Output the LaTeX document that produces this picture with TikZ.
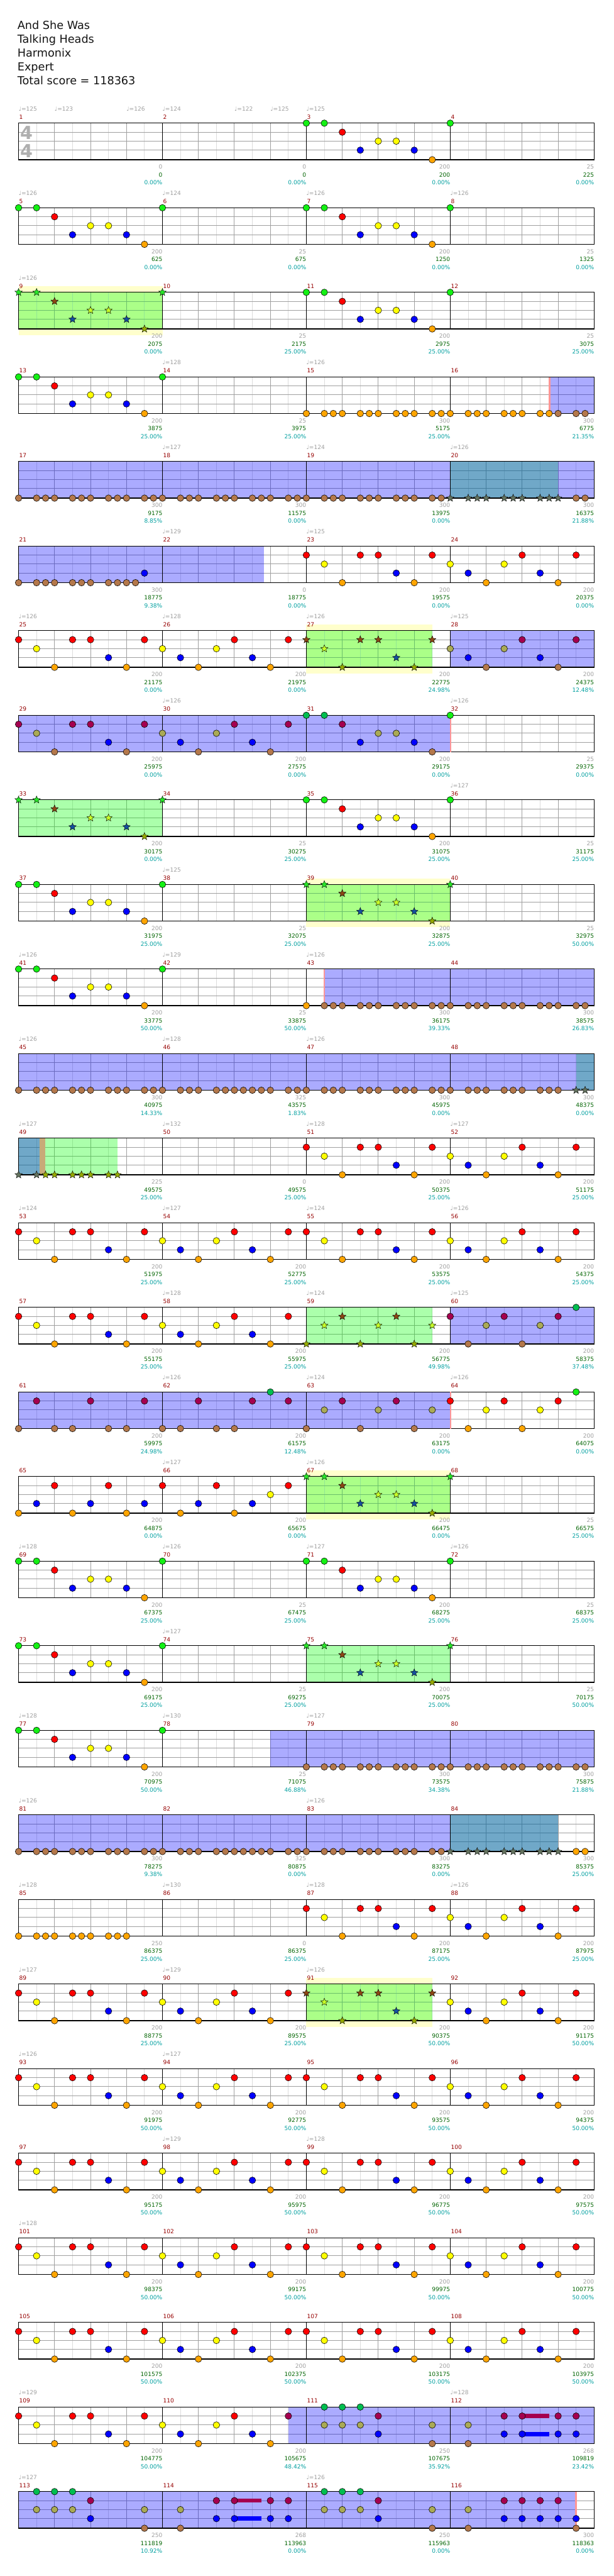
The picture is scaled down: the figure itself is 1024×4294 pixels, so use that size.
\documentclass[tikz,border=0pt]{standalone}
\usepackage{fontspec}
\setmainfont{DejaVu Sans}
\usetikzlibrary{shapes.geometric}
\definecolor{cNG}{RGB}{20,240,20}
\definecolor{cNR}{RGB}{255,0,0}
\definecolor{cNY}{RGB}{255,255,0}
\definecolor{cNB}{RGB}{0,0,255}
\definecolor{cNO}{RGB}{255,165,0}
\definecolor{cOG}{RGB}{0,190,80}
\definecolor{cOR}{RGB}{165,0,80}
\definecolor{cOY}{RGB}{170,170,85}
\definecolor{cOB}{RGB}{0,0,255}
\definecolor{cOO}{RGB}{180,120,75}
\definecolor{cSG}{RGB}{40,230,40}
\definecolor{cSR}{RGB}{140,70,20}
\definecolor{cSY}{RGB}{200,255,40}
\definecolor{cSB}{RGB}{20,80,160}
\definecolor{cSO}{RGB}{150,170,0}
\definecolor{cTS}{RGB}{100,115,95}
\definecolor{cgray}{RGB}{160,160,160}
\definecolor{cgreen}{RGB}{0,100,0}
\definecolor{cteal}{RGB}{0,160,160}
\definecolor{cmnum}{RGB}{150,0,0}
\definecolor{clight}{RGB}{220,220,220}
\definecolor{cdark}{RGB}{160,160,160}
\definecolor{chalo}{RGB}{255,255,204}
\definecolor{ctealr}{RGB}{0,100,157}
\definecolor{cpink}{RGB}{255,150,150}
\definecolor{ctan}{RGB}{200,170,120}
\definecolor{ctitle}{RGB}{20,20,20}
\definecolor{csig}{RGB}{175,175,175}
\tikzset{
 nt/.style={circle,draw=black,line width=0.6pt,minimum size=11pt,inner sep=0pt},
 sx/.style={star,star points=5,star point ratio=2.3,draw=black,line width=0.45pt,minimum size=13pt,inner sep=0pt},
 lnG/.style={}, lnR/.style={yshift=-15pt}, lnY/.style={yshift=-30pt}, lnB/.style={yshift=-45pt}, lnO/.style={yshift=-61pt},
 nG/.style={nt,lnG,fill=cNG}, nR/.style={nt,lnR,fill=cNR}, nY/.style={nt,lnY,fill=cNY}, nB/.style={nt,lnB,fill=cNB}, nO/.style={nt,lnO,fill=cNO},
 oG/.style={nt,lnG,fill=cOG}, oR/.style={nt,lnR,fill=cOR}, oY/.style={nt,lnY,fill=cOY}, oB/.style={nt,lnB,fill=cOB}, oO/.style={nt,lnO,fill=cOO},
 sG/.style={sx,lnG,fill=cSG}, sR/.style={sx,lnR,fill=cSR}, sY/.style={sx,lnY,fill=cSY}, sB/.style={sx,lnB,fill=cSB}, sO/.style={sx,lnO,fill=cSO},
 tG/.style={sx,lnG,fill=cTS}, tR/.style={sx,lnR,fill=cTS}, tY/.style={sx,lnY,fill=cTS}, tB/.style={sx,lnB,fill=cTS}, tO/.style={sx,lnO,fill=cTS},
 lbl/.style={font=\fontsize{9.5}{10}\selectfont,inner sep=0pt},
 mnum/.style={font=\fontsize{9.5}{10}\selectfont,inner sep=0pt,text=cmnum,anchor=base west},
 tmpo/.style={font=\fontsize{9.5}{10}\selectfont,inner sep=0pt,text=cgray,anchor=base west},
 ttl/.style={font=\fontsize{18.5}{20}\selectfont,inner sep=0pt,text=ctitle,anchor=base west},
 lgrid/.style={draw=clight,line width=1pt},
 dgrid/.style={draw=cdark,line width=1pt}
}
\def\patFILL{0/G,1/G,2/R,3/B,4/Y,5/Y,6/B,7/O}
\def\patBA{0/R,1/Y,2/O,3/R,4/R,5/B,6/O,7/R}
\def\patBB{0/Y,1/B,2/O,3/Y,4/R,5/B,6/O,7/R}
\def\patGAL{0/O,2/O,3/O,4/O,6/O,7/O,8/O,10/O,11/O,12/O,14/O,15/O}
\def\patGALx{0/O,2/O,3/O,4/O,6/O,7/O,8/O,9/O,10/O,11/O,12/O,14/O,15/O}
\def\patGALa{0/O,2/O,3/O,4/O,6/O,7/O,8/O,10/O,11/O,12/O}
\def\patPA{0/O,1/Y,2/R,3/O,4/Y,5/R,6/O,7/Y}
\def\patPB{0/R,1/O,2/Y,3/R,4/O,5/Y,6/R,7/G}
\def\patPC{0/O,1/R,2/O,3/O,4/R,5/O,6/O,7/R}
\def\patPD{0/O,1/O,2/R,3/O,4/O,5/R,6/G,7/R}
\def\patPE{0/O,1/B,2/R,3/O,4/B,5/R,6/O,7/B}
\def\patPF{0/R,1/O,2/B,3/R,4/O,5/B,6/Y,7/R}
\def\patPG{1/G,2/G,3/G,1/Y,2/Y,3/Y,4/R,4/B,7/Y,7/O}
\def\patPH{1/Y,1/O,3/R,3/B,4/R,4/B,6/R,6/B,7/R,7/B}
\def\patPI{1/Y,1/O,3/R,3/B,4/R,4/B,5/R,5/B,6/R,6/B,7/B,7/O}
% notes: measure index, style prefix, step, list
\newcommand\Ev[4]{\edef\lst{#4}%
 \foreach \p/\s in \lst {\pgfmathsetmacro\xx{31+240*#1+#3*\p}%
  \edef\tmp{\noexpand\node[#2\s] at (\xx,0) {};}\tmp}}
\newcommand\Grid{%
 \foreach \m in {0,...,3}{\foreach \k in {1,3,5,7}{\draw[lgrid] ({31+240*\m+30*\k},0) -- ++(0,61);}}
 \foreach \yy in {15,30,45}{\draw[dgrid] (31,\yy) -- (991,\yy);}
 \foreach \m in {0,...,3}{\foreach \k in {2,4,6}{\draw[dgrid] ({31+240*\m+30*\k},0) -- ++(0,61);}}}
\newcommand\Frame{\draw[black,line width=1pt] (271,0)--(271,61) (511,0)--(511,61) (751,0)--(751,61);
 \draw[black,line width=1.3pt] (31,0) rectangle (991,61);}
\newcommand\OD[2]{\fill[blue,fill opacity=0.33] (#1,0) rectangle (#2,61);}
\newcommand\SP[2]{\fill[green,fill opacity=0.33] (#1,0) rectangle (#2,61);}
\newcommand\TL[2]{\fill[ctealr,fill opacity=0.56] (#1,0) rectangle (#2,61);}
\newcommand\Halo[2]{\fill[chalo] (#1,-10) rectangle (#2,71);}
\newcommand\Pink[1]{\fill[cpink] ({#1-1.5},0) rectangle ({#1+1.5},61);}
\newcommand\Sus[1]{\fill[cOR] ({31+240*#1+120},11.5) rectangle ({31+240*#1+165},18.5);
 \fill[cOB] ({31+240*#1+120},41.5) rectangle ({31+240*#1+165},48.5);}
\newcommand\Lab[4]{\pgfmathsetmacro\xr{31+240*(#1+1)}%
 \node[lbl,text=cgray,anchor=base east] at (\xr,76.5) {#2};
 \node[lbl,text=cgreen,anchor=base east] at (\xr,89.5) {#3};
 \node[lbl,text=cteal,anchor=base east] at (\xr,102.5) {#4};}
\newcommand\Nums[1]{\foreach \i in {0,...,3}{\pgfmathtruncatemacro\mm{#1+\i}%
 \node[mnum] at ({31+240*\i+1},-7) {\mm};}}
\newcommand\Tp[2]{\node[tmpo] at (#1,-20.5) {♩=#2};}
\begin{document}
\begin{tikzpicture}[x=1pt,y=-1pt]
\useasboundingbox (0,0) rectangle (1024,4294);
\fill[white] (0,0) rectangle (1024,4294);
\node[ttl] (title) at (29,48.5) {And She Was};
\node[ttl] (artist) at (29,71.5) {Talking Heads};
\node[ttl] (author) at (29,94.5) {Harmonix};
\node[ttl] (level) at (29,117.5) {Expert};
\node[ttl] (total) at (29,140.5) {Total score = 118363};
% row 1
\begin{scope}[shift={(0,205.3)}]
\Grid\Frame
\node[font=\fontsize{30}{30}\selectfont\bfseries,text=csig,inner sep=0pt] (sigA) at (44,16) {4};
\node[font=\fontsize{30}{30}\selectfont\bfseries,text=csig,inner sep=0pt] (sigB) at (44,46) {4};
\Ev{2}{n}{30}{\patFILL}\Ev{3}{n}{30}{0/G}
\Nums{1}
\Lab{0}{0}{0}{0.00\%}\Lab{1}{0}{0}{0.00\%}\Lab{2}{200}{200}{0.00\%}\Lab{3}{25}{225}{0.00\%}
\Tp{31}{125}\Tp{91}{123}\Tp{211}{126}\Tp{271}{124}\Tp{391}{122}\Tp{451}{125}\Tp{511}{125}
\end{scope}
% row 2
\begin{scope}[shift={(0,346.3)}]
\Grid\Frame
\Ev{0}{n}{30}{\patFILL}\Ev{1}{n}{30}{0/G}\Ev{2}{n}{30}{\patFILL}\Ev{3}{n}{30}{0/G}
\Nums{5}
\Lab{0}{200}{625}{0.00\%}\Lab{1}{25}{675}{0.00\%}\Lab{2}{200}{1250}{0.00\%}\Lab{3}{25}{1325}{0.00\%}
\Tp{31}{126}\Tp{271}{124}\Tp{511}{126}\Tp{751}{126}
\end{scope}
% row 3
\begin{scope}[shift={(0,487.3)}]
\Halo{31}{271}\Grid\SP{31}{271}\Frame
\Ev{0}{s}{30}{\patFILL}\Ev{1}{s}{30}{0/G}\Ev{2}{n}{30}{\patFILL}\Ev{3}{n}{30}{0/G}
\Nums{9}
\Lab{0}{200}{2075}{0.00\%}\Lab{1}{25}{2175}{25.00\%}\Lab{2}{200}{2975}{25.00\%}\Lab{3}{25}{3075}{25.00\%}
\Tp{31}{126}
\end{scope}
% row 4
\begin{scope}[shift={(0,628.3)}]
\Grid\OD{917}{991}\Pink{917}\Frame
\Ev{0}{n}{30}{\patFILL}\Ev{1}{n}{30}{0/G}\Ev{2}{n}{15}{\patGAL}
\Ev{3}{n}{15}{0/O,2/O,3/O,4/O,6/O,7/O,8/O,10/O,11/O}\Ev{3}{o}{15}{12/O,14/O,15/O}
\Nums{13}
\Lab{0}{200}{3875}{25.00\%}\Lab{1}{25}{3975}{25.00\%}\Lab{2}{300}{5175}{25.00\%}\Lab{3}{300}{6775}{21.35\%}
\Tp{271}{128}\Tp{511}{126}
\end{scope}
% row 5
\begin{scope}[shift={(0,769.3)}]
\Grid\OD{31}{751}\OD{931}{991}\TL{751}{931}\Frame
\Ev{0}{o}{15}{\patGAL}\Ev{1}{o}{15}{\patGAL}\Ev{2}{o}{15}{\patGAL}
\Ev{3}{t}{15}{\patGALa}\Ev{3}{o}{15}{14/O,15/O}
\Nums{17}
\Lab{0}{300}{9175}{8.85\%}\Lab{1}{300}{11575}{0.00\%}\Lab{2}{300}{13975}{0.00\%}\Lab{3}{300}{16375}{21.88\%}
\Tp{271}{127}\Tp{511}{124}\Tp{751}{126}
\end{scope}
% row 6
\begin{scope}[shift={(0,910.3)}]
\Grid\OD{31}{440}\Frame
\Ev{0}{o}{15}{0/O,2/O,3/O,4/O,6/O,7/O,8/O,10/O,11/O,12/O,13/O,14/B}
\Ev{2}{n}{30}{\patBA}\Ev{3}{n}{30}{\patBB}
\Nums{21}
\Lab{0}{300}{18775}{9.38\%}\Lab{1}{0}{18775}{0.00\%}\Lab{2}{200}{19575}{0.00\%}\Lab{3}{200}{20375}{0.00\%}
\Tp{271}{129}\Tp{511}{125}
\end{scope}
% row 7
\begin{scope}[shift={(0,1051.3)}]
\Halo{511}{721}\Grid\SP{511}{721}\OD{751}{991}\Frame
\Ev{0}{n}{30}{\patBA}\Ev{1}{n}{30}{\patBB}\Ev{2}{s}{30}{\patBA}\Ev{3}{o}{30}{\patBB}
\Nums{25}
\Lab{0}{200}{21175}{0.00\%}\Lab{1}{200}{21975}{0.00\%}\Lab{2}{200}{22775}{24.98\%}\Lab{3}{200}{24375}{12.48\%}
\Tp{31}{126}\Tp{271}{128}\Tp{511}{126}\Tp{751}{125}
\end{scope}
% row 8
\begin{scope}[shift={(0,1192.3)}]
\Grid\OD{31}{751}\Frame\fill[cpink] (751,0) rectangle (752.5,61);
\Ev{0}{o}{30}{\patBA}\Ev{1}{o}{30}{\patBB}\Ev{2}{o}{30}{\patFILL}\Ev{3}{n}{30}{0/G}
\Nums{29}
\Lab{0}{200}{25975}{0.00\%}\Lab{1}{200}{27575}{0.00\%}\Lab{2}{200}{29175}{0.00\%}\Lab{3}{25}{29375}{0.00\%}
\Tp{271}{126}\Tp{751}{126}
\end{scope}
% row 9
\begin{scope}[shift={(0,1333.3)}]
\Grid\SP{31}{271}\Frame
\Ev{0}{s}{30}{\patFILL}\Ev{1}{s}{30}{0/G}\Ev{2}{n}{30}{\patFILL}\Ev{3}{n}{30}{0/G}
\Nums{33}
\Lab{0}{200}{30175}{0.00\%}\Lab{1}{25}{30275}{25.00\%}\Lab{2}{200}{31075}{25.00\%}\Lab{3}{25}{31175}{25.00\%}
\Tp{751}{127}
\end{scope}
% row 10
\begin{scope}[shift={(0,1474.3)}]
\Halo{511}{751}\Grid\SP{511}{751}\Frame
\Ev{0}{n}{30}{\patFILL}\Ev{1}{n}{30}{0/G}\Ev{2}{s}{30}{\patFILL}\Ev{3}{s}{30}{0/G}
\Nums{37}
\Lab{0}{200}{31975}{25.00\%}\Lab{1}{25}{32075}{25.00\%}\Lab{2}{200}{32875}{25.00\%}\Lab{3}{25}{32975}{50.00\%}
\Tp{271}{125}
\end{scope}
% row 11
\begin{scope}[shift={(0,1615.3)}]
\Grid\OD{541}{991}\Pink{541}\Frame
\Ev{0}{n}{30}{\patFILL}\Ev{1}{n}{30}{0/G}\Ev{2}{n}{15}{0/O}
\Ev{2}{o}{15}{2/O,3/O,4/O,6/O,7/O,8/O,10/O,11/O,12/O,14/O,15/O}\Ev{3}{o}{15}{\patGAL}
\Nums{41}
\Lab{0}{200}{33775}{50.00\%}\Lab{1}{25}{33875}{50.00\%}\Lab{2}{300}{36175}{39.33\%}\Lab{3}{300}{38575}{26.83\%}
\Tp{31}{126}\Tp{271}{129}\Tp{511}{126}
\end{scope}
% row 12
\begin{scope}[shift={(0,1756.3)}]
\Grid\OD{31}{961}\TL{961}{991}\Frame
\Ev{0}{o}{15}{\patGAL}\Ev{1}{o}{15}{\patGALx}\Ev{2}{o}{15}{\patGAL}
\Ev{3}{o}{15}{\patGALa}\Ev{3}{t}{15}{14/O,15/O}
\Nums{45}
\Lab{0}{300}{40975}{14.33\%}\Lab{1}{325}{43575}{1.83\%}\Lab{2}{300}{45975}{0.00\%}\Lab{3}{300}{48375}{0.00\%}
\Tp{31}{126}\Tp{271}{128}\Tp{511}{126}
\end{scope}
% row 13
\begin{scope}[shift={(0,1897.3)}]
\Grid\TL{31}{66}\fill[ctan] (66,0) rectangle (76,61);\SP{76}{196}\Frame
\Ev{0}{t}{15}{0/O,2/O}\Ev{0}{s}{15}{3/O,4/O,6/O,7/O,8/O,10/O,11/O}
\Ev{2}{n}{30}{\patBA}\Ev{3}{n}{30}{\patBB}
\Nums{49}
\Lab{0}{225}{49575}{25.00\%}\Lab{1}{0}{49575}{25.00\%}\Lab{2}{200}{50375}{25.00\%}\Lab{3}{200}{51175}{25.00\%}
\Tp{31}{127}\Tp{271}{132}\Tp{511}{128}\Tp{751}{127}
\end{scope}
% row 14
\begin{scope}[shift={(0,2038.3)}]
\Grid\Frame
\Ev{0}{n}{30}{\patBA}\Ev{1}{n}{30}{\patBB}\Ev{2}{n}{30}{\patBA}\Ev{3}{n}{30}{\patBB}
\Nums{53}
\Lab{0}{200}{51975}{25.00\%}\Lab{1}{200}{52775}{25.00\%}\Lab{2}{200}{53575}{25.00\%}\Lab{3}{200}{54375}{25.00\%}
\Tp{31}{124}\Tp{271}{127}\Tp{511}{124}\Tp{751}{126}
\end{scope}
% row 15
\begin{scope}[shift={(0,2179.3)}]
\Grid\SP{511}{721}\OD{751}{991}\Frame
\Ev{0}{n}{30}{\patBA}\Ev{1}{n}{30}{\patBB}\Ev{2}{s}{30}{\patPA}\Ev{3}{o}{30}{\patPB}
\Nums{57}
\Lab{0}{200}{55175}{25.00\%}\Lab{1}{200}{55975}{25.00\%}\Lab{2}{200}{56775}{49.98\%}\Lab{3}{200}{58375}{37.48\%}
\Tp{271}{128}\Tp{511}{124}\Tp{751}{125}
\end{scope}
% row 16
\begin{scope}[shift={(0,2320.3)}]
\Grid\OD{31}{751}\Frame\fill[cpink] (751,0) rectangle (752.5,61);
\Ev{0}{o}{30}{\patPC}\Ev{1}{o}{30}{\patPD}\Ev{2}{o}{30}{\patPA}\Ev{3}{n}{30}{\patPB}
\Nums{61}
\Lab{0}{200}{59975}{24.98\%}\Lab{1}{200}{61575}{12.48\%}\Lab{2}{200}{63175}{0.00\%}\Lab{3}{200}{64075}{0.00\%}
\Tp{271}{126}\Tp{511}{124}\Tp{751}{126}
\end{scope}
% row 17
\begin{scope}[shift={(0,2461.3)}]
\Halo{511}{751}\Grid\SP{511}{751}\Frame
\Ev{0}{n}{30}{\patPE}\Ev{1}{n}{30}{\patPF}\Ev{2}{s}{30}{\patFILL}\Ev{3}{s}{30}{0/G}
\Nums{65}
\Lab{0}{200}{64875}{0.00\%}\Lab{1}{200}{65675}{0.00\%}\Lab{2}{200}{66475}{0.00\%}\Lab{3}{25}{66575}{25.00\%}
\Tp{271}{127}\Tp{511}{126}
\end{scope}
% row 18
\begin{scope}[shift={(0,2602.3)}]
\Grid\Frame
\Ev{0}{n}{30}{\patFILL}\Ev{1}{n}{30}{0/G}\Ev{2}{n}{30}{\patFILL}\Ev{3}{n}{30}{0/G}
\Nums{69}
\Lab{0}{200}{67375}{25.00\%}\Lab{1}{25}{67475}{25.00\%}\Lab{2}{200}{68275}{25.00\%}\Lab{3}{25}{68375}{25.00\%}
\Tp{31}{128}\Tp{271}{126}\Tp{511}{127}\Tp{751}{126}
\end{scope}
% row 19
\begin{scope}[shift={(0,2743.3)}]
\Grid\SP{511}{751}\Frame
\Ev{0}{n}{30}{\patFILL}\Ev{1}{n}{30}{0/G}\Ev{2}{s}{30}{\patFILL}\Ev{3}{s}{30}{0/G}
\Nums{73}
\Lab{0}{200}{69175}{25.00\%}\Lab{1}{25}{69275}{25.00\%}\Lab{2}{200}{70075}{25.00\%}\Lab{3}{25}{70175}{50.00\%}
\Tp{271}{127}
\end{scope}
% row 20
\begin{scope}[shift={(0,2884.3)}]
\Grid\OD{451}{991}\Frame
\Ev{0}{n}{30}{\patFILL}\Ev{1}{n}{30}{0/G}\Ev{2}{o}{15}{\patGAL}\Ev{3}{o}{15}{\patGAL}
\Nums{77}
\Lab{0}{200}{70975}{50.00\%}\Lab{1}{25}{71075}{46.88\%}\Lab{2}{300}{73575}{34.38\%}\Lab{3}{300}{75875}{21.88\%}
\Tp{31}{128}\Tp{271}{130}\Tp{511}{127}
\end{scope}
% row 21
\begin{scope}[shift={(0,3025.3)}]
\Grid\OD{31}{751}\TL{751}{931}\Frame
\Ev{0}{o}{15}{\patGAL}\Ev{1}{o}{15}{\patGALx}\Ev{2}{o}{15}{\patGAL}
\Ev{3}{t}{15}{\patGALa}\Ev{3}{n}{15}{14/O,15/O}
\Nums{81}
\Lab{0}{300}{78275}{9.38\%}\Lab{1}{325}{80875}{0.00\%}\Lab{2}{300}{83275}{0.00\%}\Lab{3}{300}{85375}{25.00\%}
\Tp{31}{126}\Tp{511}{126}
\end{scope}
% row 22
\begin{scope}[shift={(0,3166.3)}]
\Grid\Frame
\Ev{0}{n}{15}{\patGALa}\Ev{2}{n}{30}{\patBA}\Ev{3}{n}{30}{\patBB}
\Nums{85}
\Lab{0}{250}{86375}{25.00\%}\Lab{1}{0}{86375}{25.00\%}\Lab{2}{200}{87175}{25.00\%}\Lab{3}{200}{87975}{25.00\%}
\Tp{31}{128}\Tp{271}{130}\Tp{511}{128}\Tp{751}{126}
\end{scope}
% row 23
\begin{scope}[shift={(0,3307.3)}]
\Halo{511}{721}\Grid\SP{511}{721}\Frame
\Ev{0}{n}{30}{\patBA}\Ev{1}{n}{30}{\patBB}\Ev{2}{s}{30}{\patBA}\Ev{3}{n}{30}{\patBB}
\Nums{89}
\Lab{0}{200}{88775}{25.00\%}\Lab{1}{200}{89575}{25.00\%}\Lab{2}{200}{90375}{50.00\%}\Lab{3}{200}{91175}{50.00\%}
\Tp{31}{127}\Tp{271}{129}\Tp{511}{126}
\end{scope}
% row 24
\begin{scope}[shift={(0,3448.3)}]
\Grid\Frame
\Ev{0}{n}{30}{\patBA}\Ev{1}{n}{30}{\patBB}\Ev{2}{n}{30}{\patBA}\Ev{3}{n}{30}{\patBB}
\Nums{93}
\Lab{0}{200}{91975}{50.00\%}\Lab{1}{200}{92775}{50.00\%}\Lab{2}{200}{93575}{50.00\%}\Lab{3}{200}{94375}{50.00\%}
\Tp{31}{126}\Tp{271}{127}
\end{scope}
% row 25
\begin{scope}[shift={(0,3589.3)}]
\Grid\Frame
\Ev{0}{n}{30}{\patBA}\Ev{1}{n}{30}{\patBB}\Ev{2}{n}{30}{\patBA}\Ev{3}{n}{30}{\patBB}
\Nums{97}
\Lab{0}{200}{95175}{50.00\%}\Lab{1}{200}{95975}{50.00\%}\Lab{2}{200}{96775}{50.00\%}\Lab{3}{200}{97575}{50.00\%}
\Tp{271}{129}\Tp{511}{128}
\end{scope}
% row 26
\begin{scope}[shift={(0,3730.3)}]
\Grid\Frame
\Ev{0}{n}{30}{\patBA}\Ev{1}{n}{30}{\patBB}\Ev{2}{n}{30}{\patBA}\Ev{3}{n}{30}{\patBB}
\Nums{101}
\Lab{0}{200}{98375}{50.00\%}\Lab{1}{200}{99175}{50.00\%}\Lab{2}{200}{99975}{50.00\%}\Lab{3}{200}{100775}{50.00\%}
\Tp{31}{128}
\end{scope}
% row 27
\begin{scope}[shift={(0,3871.3)}]
\Grid\Frame
\Ev{0}{n}{30}{\patBA}\Ev{1}{n}{30}{\patBB}\Ev{2}{n}{30}{\patBA}\Ev{3}{n}{30}{\patBB}
\Nums{105}
\Lab{0}{200}{101575}{50.00\%}\Lab{1}{200}{102375}{50.00\%}\Lab{2}{200}{103175}{50.00\%}\Lab{3}{200}{103975}{50.00\%}
\end{scope}
% row 28
\begin{scope}[shift={(0,4012.3)}]
\Grid\OD{481}{991}\Frame\Sus{3}
\Ev{0}{n}{30}{\patBA}\Ev{1}{n}{30}{0/Y,1/B,2/O,3/Y,4/R,5/B,6/O}\Ev{1}{o}{30}{7/R}
\Ev{2}{o}{30}{\patPG}\Ev{3}{o}{30}{\patPH}
\Nums{109}
\Lab{0}{200}{104775}{50.00\%}\Lab{1}{200}{105675}{48.42\%}\Lab{2}{250}{107675}{35.92\%}\Lab{3}{268}{109819}{23.42\%}
\Tp{31}{129}\Tp{751}{128}
\end{scope}
% row 29
\begin{scope}[shift={(0,4153.3)}]
\Grid\OD{31}{961}\Pink{961}\Frame\Sus{1}
\Ev{0}{o}{30}{\patPG}\Ev{1}{o}{30}{\patPH}\Ev{2}{o}{30}{\patPG}\Ev{3}{o}{30}{\patPI}
\Nums{113}
\Lab{0}{250}{111819}{10.92\%}\Lab{1}{268}{113963}{0.00\%}\Lab{2}{250}{115963}{0.00\%}\Lab{3}{300}{118363}{0.00\%}
\Tp{31}{127}\Tp{511}{126}
\end{scope}
\end{tikzpicture}
\end{document}
